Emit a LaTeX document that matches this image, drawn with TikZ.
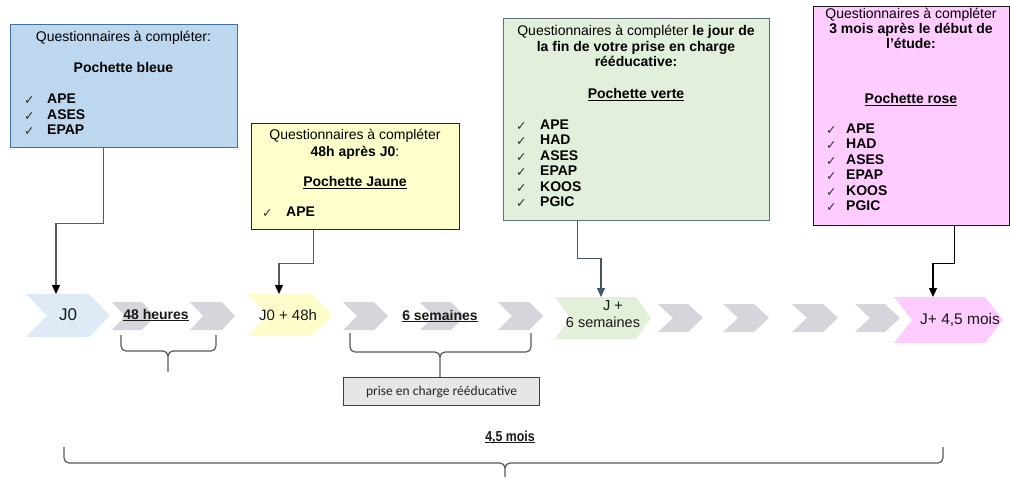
\documentclass[tikz,border=0pt]{standalone}
\usepackage{fontspec}
\setmainfont{Liberation Sans}
\newfontfamily\dejavu{DejaVu Sans}
\newfontfamily\carlito{Carlito}
\usetikzlibrary{arrows.meta}
\definecolor{cjzero}{HTML}{DEEBF7}
\definecolor{cgray}{HTML}{D5D6DB}
\definecolor{cyel}{HTML}{FEFECC}
\definecolor{cgrn}{HTML}{E2F0D9}
\definecolor{cpink}{HTML}{FFCCFF}
\definecolor{bluebox}{HTML}{BDD7EE}
\definecolor{blueline}{HTML}{41719C}
\definecolor{yelbox}{HTML}{FFFFCC}
\definecolor{grnbox}{HTML}{E2EFDA}
\definecolor{grnline}{HTML}{5F6F7F}
\definecolor{grnconn}{HTML}{44546A}
\definecolor{pinkbox}{HTML}{FFCCFF}
\definecolor{graybox}{HTML}{E7E6E6}
\newcommand\ulx[1]{\setbox0\hbox{#1}\rlap{\rule[-2pt]{\wd0}{1pt}}\box0}
\newcommand\chevshape[6]{%
  \fill[#6] (#1,#2) -- ({#1+#3-#5},#2) -- ({#1+#3},{#2+#4/2}) -- ({#1+#3-#5},{#2+#4}) -- (#1,{#2+#4}) -- ({#1+#5},{#2+#4/2}) -- cycle;}
\newcommand\chkitem[5]{%
  \node[chk] (#1c) at (#2,#4) {✓};
  \node[lst] (#1) at (#3,#4) {#5};}
\tikzset{
  txt/.style={inner sep=0pt, font=\fontsize{14}{15.5}\selectfont, text height=10pt, text depth=3pt, text=black},
  lst/.style={txt, anchor=west, font=\fontsize{14}{15.5}\selectfont\bfseries},
  chk/.style={inner sep=0pt, anchor=west, font=\dejavu\fontsize{12.5}{14}\selectfont, text=black!80, text height=9pt, text depth=1pt},
  qbox/.style={line width=1.1pt, inner sep=0pt, anchor=north west},
  conn/.style={line width=1.2pt},
  lbl/.style={inner sep=0pt, text=black!90},
  bracestyle/.style={draw=black!65, line width=1.2pt},
}
\begin{document}
\begin{tikzpicture}[x=1pt,y=-1pt]
\useasboundingbox (0,0) rectangle (1010,477);
\fill[white] (0,0) rectangle (1010,477);

% ---- boxes
\node[qbox, fill=bluebox, draw=blueline, minimum width=227pt, minimum height=123pt] (blue) at (10,24) {};
\node[qbox, fill=yelbox, draw=black!85, minimum width=208pt, minimum height=106pt] (ybox) at (251,123) {};
\node[qbox, fill=grnbox, draw=grnline, minimum width=266pt, minimum height=202pt] (gbox) at (503,18) {};
\node[qbox, fill=pinkbox, draw=black!90, minimum width=196pt, minimum height=219pt] (pbox) at (813,6) {};

% blue box text
\node[txt] (bq) at (123.5,38) {Questionnaires à compléter:};
\node[txt, font=\fontsize{14}{15.5}\selectfont\bfseries] (bp) at (123.5,69) {Pochette bleue};
\chkitem{b1}{24}{47}{100}{APE}
\chkitem{b2}{24}{47}{116}{ASES}
\chkitem{b3}{24}{47}{131}{EPAP}

% yellow box text
\node[txt] (yq) at (355,136) {Questionnaires à compléter};
\node[txt] (yq2) at (355,153) {\textbf{48h après J0}:};
\node[txt, font=\fontsize{14}{15.5}\selectfont\bfseries] (yp) at (355,183) {\ulx{Pochette Jaune}};
\chkitem{y1}{262}{286}{213}{APE}

% green box text
\node[txt] (gq1) at (636,32) {Questionnaires à compléter \textbf{le jour de}};
\node[txt, font=\fontsize{14}{15.5}\selectfont\bfseries] (gq2) at (636,48) {la fin de votre prise en charge};
\node[txt, font=\fontsize{14}{15.5}\selectfont\bfseries] (gq3) at (636,63) {rééducative:};
\node[txt, font=\fontsize{14}{15.5}\selectfont\bfseries] (gp) at (636,95) {\ulx{Pochette verte}};
\chkitem{g1}{516}{540}{126}{APE}
\chkitem{g2}{516}{540}{141}{HAD}
\chkitem{g3}{516}{540}{157}{ASES}
\chkitem{g4}{516}{540}{172}{EPAP}
\chkitem{g5}{516}{540}{188}{KOOS}
\chkitem{g6}{516}{540}{203}{PGIC}

% pink box text
\node[txt] (pq1) at (911,15) {Questionnaires à compléter};
\node[txt, font=\fontsize{14}{15.5}\selectfont\bfseries] (pq2) at (911,30) {3 mois après le début de};
\node[txt, font=\fontsize{14}{15.5}\selectfont\bfseries] (pq3) at (911,45) {l’étude:};
\node[txt, font=\fontsize{14}{15.5}\selectfont\bfseries] (pp) at (911,100) {\ulx{Pochette rose}};
\chkitem{p1}{826}{846}{130}{APE}
\chkitem{p2}{826}{846}{145}{HAD}
\chkitem{p3}{826}{846}{161}{ASES}
\chkitem{p4}{826}{846}{176}{EPAP}
\chkitem{p5}{826}{846}{192}{KOOS}
\chkitem{p6}{826}{846}{207}{PGIC}

% ---- chevrons
\chevshape{26}{294}{84}{43}{21}{cjzero}
\chevshape{112}{302}{43}{28}{13}{cgray}
\chevshape{190}{302}{45}{28}{13}{cgray}
\chevshape{247}{294}{86}{42}{21}{cyel}
\chevshape{343}{302}{45}{28}{14}{cgray}
\chevshape{420}{302}{45}{28}{14}{cgray}
\chevshape{498}{302}{45}{28}{14}{cgray}
\chevshape{555}{297}{96}{42}{15}{cgrn}
\chevshape{658}{304}{45}{28}{15}{cgray}
\chevshape{723}{304}{46}{28}{15}{cgray}
\chevshape{792}{304}{46}{28}{15}{cgray}
\chevshape{855}{304}{45}{28}{15}{cgray}
\chevshape{894}{297}{109}{46}{18}{cpink}

\coordinate (jzerotop) at (56,294);
\coordinate (jfourtop) at (279,294);
\coordinate (jsixtop) at (601,297);
\coordinate (jmoistop) at (933,297);

% chevron labels
\node[lbl, font=\fontsize{17}{19}\selectfont] (lj0) at (68,315) {J0};
\node[lbl, font=\fontsize{14}{16}\selectfont\bfseries] (l48) at (156,315) {\ulx{48 heures}};
\node[lbl, font=\fontsize{15}{17}\selectfont] (lj48) at (288,315) {J0 + 48h};
\node[lbl, font=\fontsize{14}{16}\selectfont\bfseries] (l6s) at (440,316) {\ulx{6 semaines}};
\node[lbl, font=\fontsize{14.5}{16}\selectfont] (lj6a) at (613,306) {J +};
\node[lbl, font=\fontsize{14.5}{16}\selectfont] (lj6b) at (603,322) {6 semaines};
\node[lbl, font=\fontsize{15.5}{17}\selectfont] (lj45) at (960,320) {J+ 4,5 mois};

% ---- connectors
\draw[conn, draw=black!65, -{Triangle[width=8pt,length=9pt,color=black]}]
  ([xshift=-20.5pt]blue.south) -- ++(0,75) -| (jzerotop);
\draw[conn, draw=black!65, -{Triangle[width=8pt,length=9pt,color=black]}]
  ([xshift=-42pt]ybox.south) -- ++(0,33) -| (jfourtop);
\draw[conn, draw=grnconn, -{Triangle[width=8pt,length=9pt,color=grnconn]}]
  ([xshift=-59pt]gbox.south) -- ++(0,37) -| (jsixtop);
\draw[conn, draw=black, -{Triangle[width=8pt,length=9pt,color=black]}]
  ([xshift=43pt]pbox.south) -- ++(0,37) -| (jmoistop);

% ---- braces
\draw[bracestyle] (121,335) -- (121,346) to[out=-90,in=180] (126,351) -- (163,351) to[out=0,in=90] (168,356) -- (168,372);
\draw[bracestyle] (216,335) -- (216,346) to[out=-90,in=0] (211,351) -- (173,351) to[out=180,in=90] (168,356);

\draw[bracestyle] (350,333) -- (350,347) to[out=-90,in=180] (355,352) -- (435,352) to[out=0,in=90] (440,357) -- (440,377);
\draw[bracestyle] (531,333) -- (531,347) to[out=-90,in=0] (526,352) -- (445,352) to[out=180,in=90] (440,357);

\node[draw=black!75, fill=graybox, line width=1pt, minimum width=196pt, minimum height=28pt, inner sep=0pt, anchor=north west] (pec) at (343,377) {};
\node[inner sep=0pt, font=\carlito\fontsize{13.5}{15}\selectfont, text=black!85] (pect) at (pec.center) {prise en charge rééducative};

\draw[bracestyle] (64,447) -- (64,458) to[out=-90,in=180] (69,463) -- (500,463) to[out=0,in=90] (505,468) -- (505,477);
\draw[bracestyle] (943,447) -- (943,458) to[out=-90,in=0] (938,463) -- (510,463) to[out=180,in=90] (505,468);
\node[lbl, font=\fontsize{14.5}{16}\selectfont\bfseries] (l45) at (510,437) {\scalebox{0.85}[1]{\ulx{4,5 mois}}};
\end{tikzpicture}
\end{document}
